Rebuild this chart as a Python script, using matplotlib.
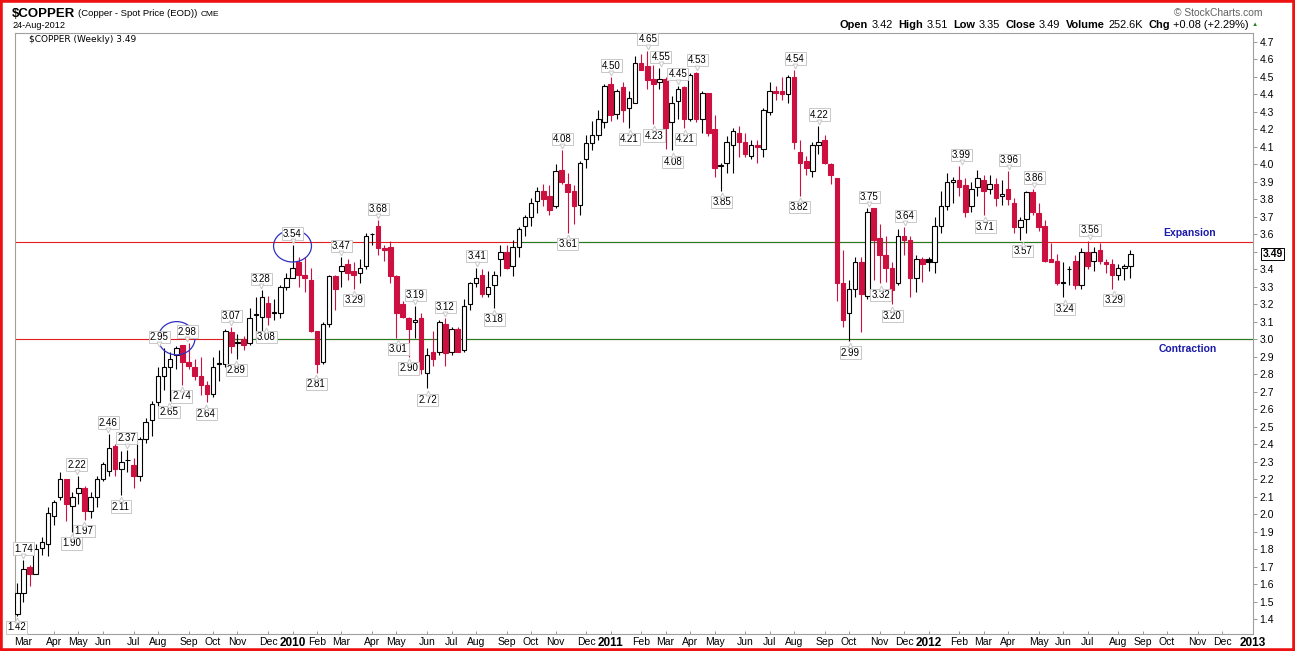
import numpy as np
import pandas as pd
import matplotlib
matplotlib.use('Agg')
import matplotlib.pyplot as plt
from matplotlib.patches import Ellipse, Rectangle
from matplotlib.transforms import offset_copy

plt.rcParams['font.family'] = ['Liberation Sans', 'DejaVu Sans']

# weekly bars, first week ends Fri 27-Feb-2009, last 24-Aug-2012
first_friday = '2009-02-27'

opens = [1.43, 1.55, 1.70, 1.66, 1.81, 1.83, 1.99, 2.10, 2.20, 2.05,
         2.12, 2.15, 2.02, 2.10, 2.20, 2.25, 2.39, 2.26, 2.31, 2.28,
         2.22, 2.43, 2.54, 2.64, 2.79, 2.84, 2.91, 2.97, 2.87, 2.84,
         2.79, 2.74, 2.69, 2.86, 2.86, 3.04, 2.98, 3.00, 2.98, 3.14,
         3.13, 3.21, 3.15, 3.15, 3.30, 3.35, 3.44, 3.37, 3.34, 3.05,
         2.87, 3.09, 3.36, 3.39, 3.43, 3.39, 3.38, 3.42, 3.60, 3.65,
         3.52, 3.53, 3.36, 3.20, 3.12, 3.10, 3.12, 2.81, 2.93, 2.93,
         3.09, 2.93, 3.06, 2.94, 3.20, 3.32, 3.37, 3.26, 3.31, 3.46,
         3.50, 3.42, 3.53, 3.65, 3.70, 3.79, 3.85, 3.82, 3.76, 3.97,
         3.89, 3.85, 3.77, 4.03, 4.12, 4.17, 4.24, 4.46, 4.29, 4.44,
         4.32, 4.35, 4.58, 4.56, 4.49, 4.47, 4.49, 4.24, 4.36, 4.44,
         4.26, 4.52, 4.26, 4.41, 4.20, 3.99, 4.01, 4.11, 4.18, 4.13,
         4.05, 4.11, 4.09, 4.30, 4.42, 4.42, 4.40, 4.50, 4.07, 4.02,
         3.96, 4.11, 4.14, 4.00, 3.92, 3.32, 3.15, 3.29, 3.44, 3.25,
         3.75, 3.58, 3.48, 3.41, 3.32, 3.59, 3.57, 3.35, 3.46, 3.46,
         3.44, 3.65, 3.76, 3.90, 3.91, 3.88, 3.76, 3.87, 3.91, 3.86,
         3.89, 3.82, 3.86, 3.78, 3.64, 3.69, 3.84, 3.72, 3.65, 3.46,
         3.45, 3.33, 3.40, 3.45, 3.31, 3.50, 3.45, 3.51, 3.44, 3.43,
         3.37, 3.41, 3.42]

highs = [1.61, 1.74, 1.71, 1.83, 1.87, 2.04, 2.08, 2.24, 2.20, 2.13,
         2.22, 2.16, 2.13, 2.22, 2.30, 2.46, 2.40, 2.36, 2.37, 2.32,
         2.44, 2.55, 2.65, 2.84, 2.95, 2.93, 2.96, 2.97, 2.98, 2.89,
         2.90, 2.76, 2.90, 2.94, 3.06, 3.07, 3.03, 3.02, 3.18, 3.24,
         3.28, 3.25, 3.23, 3.31, 3.38, 3.54, 3.47, 3.47, 3.41, 3.05,
         3.10, 3.37, 3.37, 3.47, 3.46, 3.44, 3.46, 3.61, 3.61, 3.68,
         3.54, 3.56, 3.37, 3.22, 3.13, 3.19, 3.15, 2.95, 3.05, 3.11,
         3.12, 3.07, 3.07, 3.23, 3.33, 3.41, 3.40, 3.39, 3.39, 3.54,
         3.54, 3.57, 3.64, 3.71, 3.81, 3.87, 3.89, 3.88, 4.00, 4.08,
         3.95, 3.88, 4.02, 4.17, 4.25, 4.31, 4.46, 4.50, 4.43, 4.47,
         4.42, 4.62, 4.63, 4.65, 4.57, 4.55, 4.50, 4.39, 4.45, 4.45,
         4.52, 4.53, 4.42, 4.41, 4.28, 4.01, 4.16, 4.21, 4.22, 4.18,
         4.14, 4.14, 4.32, 4.47, 4.45, 4.50, 4.51, 4.54, 4.14, 4.05,
         4.13, 4.22, 4.17, 4.01, 3.92, 3.51, 3.34, 3.47, 3.47, 3.75,
         3.75, 3.66, 3.59, 3.44, 3.63, 3.64, 3.59, 3.48, 3.47, 3.47,
         3.70, 3.85, 3.95, 3.93, 3.99, 3.92, 3.90, 3.97, 3.94, 3.94,
         3.92, 3.91, 3.96, 3.81, 3.70, 3.85, 3.86, 3.78, 3.68, 3.55,
         3.49, 3.44, 3.42, 3.48, 3.52, 3.56, 3.53, 3.55, 3.46, 3.46,
         3.43, 3.43, 3.51]

lows = [1.42, 1.50, 1.59, 1.66, 1.77, 1.76, 1.94, 2.08, 1.96, 1.90,
        2.06, 1.97, 1.98, 2.04, 2.19, 2.22, 2.22, 2.11, 2.24, 2.15,
        2.19, 2.41, 2.45, 2.62, 2.71, 2.65, 2.83, 2.74, 2.83, 2.77,
        2.68, 2.64, 2.67, 2.76, 2.84, 2.92, 2.89, 2.94, 2.97, 3.00,
        3.02, 3.08, 3.11, 3.12, 3.28, 3.35, 3.30, 3.27, 3.04, 2.81,
        2.86, 3.07, 3.17, 3.30, 3.34, 3.29, 3.32, 3.40, 3.54, 3.48,
        3.45, 3.32, 3.01, 3.12, 2.90, 3.01, 2.80, 2.72, 2.85, 2.91,
        2.85, 2.91, 2.93, 2.93, 3.17, 3.30, 3.24, 3.24, 3.18, 3.36,
        3.40, 3.36, 3.47, 3.59, 3.65, 3.72, 3.76, 3.71, 3.75, 3.89,
        3.61, 3.66, 3.71, 3.98, 4.08, 4.14, 4.21, 4.25, 4.26, 4.24,
        4.21, 4.35, 4.54, 4.43, 4.23, 4.43, 4.09, 4.08, 4.26, 4.21,
        4.25, 4.24, 4.18, 4.16, 3.93, 3.85, 3.95, 3.95, 4.04, 4.04,
        4.03, 4.01, 4.04, 4.28, 4.37, 4.37, 4.35, 4.09, 3.82, 3.94,
        3.93, 4.06, 4.00, 3.89, 3.22, 3.07, 2.99, 3.24, 3.04, 3.23,
        3.34, 3.32, 3.33, 3.20, 3.31, 3.48, 3.24, 3.27, 3.33, 3.39,
        3.38, 3.61, 3.74, 3.78, 3.82, 3.70, 3.73, 3.82, 3.71, 3.83,
        3.76, 3.77, 3.77, 3.61, 3.57, 3.61, 3.71, 3.62, 3.44, 3.44,
        3.31, 3.24, 3.31, 3.29, 3.29, 3.40, 3.39, 3.43, 3.38, 3.29,
        3.34, 3.34, 3.35]

closes = [1.55, 1.69, 1.66, 1.80, 1.84, 2.01, 2.07, 2.20, 2.06, 2.10,
          2.15, 2.02, 2.10, 2.20, 2.29, 2.38, 2.26, 2.30, 2.31, 2.22,
          2.43, 2.53, 2.63, 2.79, 2.84, 2.89, 2.95, 2.87, 2.85, 2.79,
          2.74, 2.69, 2.84, 2.86, 3.05, 2.96, 2.98, 2.97, 3.12, 3.14,
          3.24, 3.13, 3.15, 3.30, 3.35, 3.41, 3.37, 3.35, 3.05, 2.86,
          3.09, 3.36, 3.29, 3.42, 3.38, 3.37, 3.41, 3.59, 3.60, 3.52,
          3.51, 3.36, 3.15, 3.13, 3.06, 3.11, 2.83, 2.91, 2.89, 3.10,
          2.92, 3.06, 2.93, 3.19, 3.32, 3.35, 3.26, 3.30, 3.37, 3.50,
          3.41, 3.53, 3.63, 3.70, 3.78, 3.85, 3.80, 3.74, 3.96, 3.90,
          3.84, 3.76, 4.01, 4.12, 4.17, 4.26, 4.45, 4.28, 4.42, 4.31,
          4.38, 4.58, 4.54, 4.48, 4.46, 4.49, 4.21, 4.35, 4.43, 4.26,
          4.51, 4.26, 4.41, 4.18, 3.98, 3.99, 4.13, 4.19, 4.13, 4.06,
          4.11, 4.10, 4.31, 4.42, 4.41, 4.40, 4.50, 4.13, 4.01, 3.98,
          4.11, 4.13, 4.01, 3.94, 3.32, 3.11, 3.29, 3.44, 3.26, 3.73,
          3.57, 3.48, 3.41, 3.28, 3.59, 3.57, 3.35, 3.46, 3.43, 3.44,
          3.65, 3.76, 3.90, 3.91, 3.87, 3.73, 3.86, 3.92, 3.85, 3.89,
          3.81, 3.83, 3.80, 3.64, 3.68, 3.84, 3.73, 3.64, 3.45, 3.44,
          3.32, 3.325, 3.40, 3.31, 3.50, 3.42, 3.50, 3.45, 3.43, 3.37,
          3.41, 3.42, 3.49]

# hand drawn annotations: (week position, price, 'h' above high / 'l' below low)
marks = [(0.9, 1.42, 'l'), (2.0, 1.74, 'h'), (10.7, 2.22, 'h'), (9.9, 1.90, 'l'),
         (11.9, 1.97, 'l'), (15.9, 2.46, 'h'), (18.9, 2.37, 'h'), (17.9, 2.11, 'l'),
         (24.2, 2.95, 'h'), (28.8, 2.98, 'h'), (25.8, 2.65, 'l'), (27.9, 2.74, 'l'),
         (31.9, 2.64, 'l'), (36.0, 3.07, 'h'), (36.8, 2.89, 'l'), (40.9, 3.28, 'h'),
         (41.7, 3.08, 'l'), (46.0, 3.54, 'h'), (49.9, 2.81, 'l'), (54.0, 3.47, 'h'),
         (56.0, 3.29, 'l'), (60.0, 3.68, 'h'), (63.3, 3.01, 'l'), (66.1, 3.19, 'h'),
         (65.0, 2.90, 'l'), (68.1, 2.72, 'l'), (71.0, 3.12, 'h'), (76.1, 3.41, 'h'),
         (79.0, 3.18, 'l'), (90.1, 4.08, 'h'), (91.0, 3.61, 'l'), (98.1, 4.50, 'h'),
         (101.1, 4.21, 'l'), (104.1, 4.65, 'h'), (106.2, 4.55, 'h'), (105.1, 4.23, 'l'),
         (109.0, 4.45, 'h'), (108.2, 4.08, 'l'), (110.2, 4.21, 'l'), (112.2, 4.53, 'h'),
         (116.2, 3.85, 'l'), (128.2, 4.54, 'h'), (128.9, 3.82, 'l'), (132.1, 4.22, 'h'),
         (137.2, 2.99, 'l'), (140.3, 3.75, 'h'), (142.2, 3.32, 'l'), (144.1, 3.20, 'l'),
         (146.2, 3.64, 'h'), (155.4, 3.99, 'h'), (159.3, 3.71, 'l'), (163.2, 3.96, 'h'),
         (165.4, 3.57, 'l'), (167.3, 3.86, 'h'), (172.3, 3.24, 'l'), (176.4, 3.56, 'h'),
         (180.3, 3.29, 'l')]

W, H = 1295, 651
RED = '#cc1040'

fig = plt.figure(figsize=(W / 100, H / 100), dpi=100)
ax = fig.add_axes([15 / W, 1 - 634 / H, (1253 - 15) / W, (634 - 33) / H])

o = np.array(opens)
h = np.array(highs)
l = np.array(lows)
c = np.array(closes)
n = len(c)
x = np.arange(1, n + 1)
prev = np.r_[c[0], c[:-1]]
edge = np.where(c < prev, RED, 'black')
face = np.where(c >= o, 'white', edge)

ax.vlines(x, l, h, colors=edge, lw=0.8, zorder=2)
body = np.maximum(np.abs(c - o), 0.004)
ax.bar(x, body, bottom=np.minimum(o, c), width=0.74, color=face,
       edgecolor=edge, linewidth=0.8, zorder=3)

# support / resistance lines
ax.axhline(3.557, color='#e02020', lw=0.8, zorder=1)
ax.axhline(3.0, color='#e02020', lw=0.8, zorder=1)
ax.hlines(3.555, 82.8, 169.2, color='#208020', lw=0.8, zorder=1.5)
ax.hlines(3.0, 35.3, 204, color='#208020', lw=0.8, zorder=1.5)

ax.add_patch(Ellipse((27.05, 3.007), 6.0, 0.19, fill=False, ec='#3030c0', lw=0.9, zorder=5))
ax.add_patch(Ellipse((46.0, 3.534), 6.2, 0.183, fill=False, ec='#3030c0', lw=0.9, zorder=5))

ax.text(192.6, 3.61, 'Expansion', color='#1a1aa8', fontsize=7.5, fontweight='bold',
        ha='center', va='center')
ax.text(192.4, 2.945, 'Contraction', color='#1a1aa8', fontsize=7.5, fontweight='bold',
        ha='center', va='center')

for wk, val, side in marks:
    sgn = 1 if side == 'h' else -1
    ax.annotate(f'{val:.2f}', xy=(wk, val), xytext=(0, 8.2 * sgn), textcoords='offset points',
                ha='center', va='center', fontsize=7,
                bbox=dict(boxstyle='square,pad=0.12', fc='white', ec='#c8c8c8', lw=0.7),
                zorder=6)
    tr = offset_copy(ax.transData, fig=fig, x=0, y=3.0 * sgn, units='points')
    ax.plot(wk, val, marker='v' if sgn > 0 else '^', ms=3.5, mfc='white',
            mec='#c8c8c8', mew=0.7, transform=tr, zorder=6, clip_on=False)

ax.set_xlim(0.62, 203.05)
ax.set_ylim(1.317, 4.751)

# y axis on the right, 3.5 left out where the price tag sits
yt = np.round(np.arange(1.4, 4.71, 0.1), 1)
ax.yaxis.tick_right()
ax.set_yticks(yt)
ax.set_yticklabels(['' if v == 3.5 else f'{v:.1f}' for v in yt])
ax.tick_params(axis='y', length=3, width=0.6, color='#888888', labelsize=7.5, pad=1.5)

# month labels at the first week whose Monday is in the month
fridays = pd.date_range(first_friday, periods=210, freq='W-FRI')
mondays = fridays - pd.Timedelta(days=4)
pos, labs = [], []
for i in range(1, len(fridays)):
    if mondays[i].month != mondays[i - 1].month and i + 1 <= 203.05:
        pos.append(i + 1)
        labs.append(str(mondays[i].year) if mondays[i].month == 1 else mondays[i].strftime('%b'))
ax.set_xticks(pos)
ax.set_xticklabels(labs)
ax.tick_params(axis='x', length=2.5, width=0.6, color='#888888', direction='in',
               labelsize=7.5, pad=2)
for t in ax.get_xticklabels():
    if t.get_text().isdigit():
        t.set_fontweight('bold')
        t.set_fontsize(8.5)

for s in ax.spines.values():
    s.set_color('#a0a0a0')
    s.set_linewidth(0.8)

# current price tag on the axis
ax.annotate('3.49', xy=(1.0, 3.49), xycoords=ax.get_yaxis_transform(),
            xytext=(14, 0), textcoords='offset points', ha='center', va='center',
            fontsize=7.5, fontweight='bold',
            bbox=dict(boxstyle='square,pad=0.1', fc='white', ec='black', lw=0.7), zorder=7,
            annotation_clip=False)


def fx(px):
    return px / W


def fy(py):
    return 1 - py / H


r = fig.canvas.get_renderer()


def run(pieces, x0, y, right=False):
    # pieces: (text, size, bold, colour, gap after)
    arts = [fig.text(0, fy(y), t, fontsize=s, va='center', color=col,
                     fontweight='bold' if b else 'normal') for t, s, b, col, g in pieces]
    widths = [a.get_window_extent(r).width for a in arts]
    total = sum(widths) + sum(p[4] for p in pieces[:-1])
    xp = x0 - total if right else x0
    for a, w, p in zip(arts, widths, pieces):
        a.set_x(fx(xp))
        xp += w + p[4]


run([('$COPPER', 9.5, True, 'black', 3),
     ('(Copper - Spot Price (EOD))', 6.8, False, 'black', 3),
     ('CME', 6, False, 'black', 0)], 12, 14)
fig.text(fx(12), fy(26), '24-Aug-2012', fontsize=6.6, va='center')
fig.text(fx(29), fy(39), '$COPPER (Weekly) 3.49', fontsize=6.5, va='center',
         family=['DejaVu Sans'])
fig.text(fx(1263), fy(13), '\u00a9 StockCharts.com', fontsize=7.4, va='center', ha='right',
         color='#606060')

hdr = [('Open', True), ('3.42', False), ('High', True), ('3.51', False),
       ('Low', True), ('3.35', False), ('Close', True), ('3.49', False),
       ('Volume', True), ('252.6K', False), ('Chg', True), ('+0.08 (+2.29%)', False)]
pieces = [(t, 7.9, b, 'black', 3 if b else 6) for t, b in hdr]
pieces[-1] = ('+0.08 (+2.29%)', 7.9, False, 'black', 3)
pieces.append(('\u25b2', 4.5, False, '#208020', 0))
run(pieces, 1258, 25, right=True)

# red frame round the picture
fig.patches.append(Rectangle((0, 0), 1, 1, transform=fig.transFigure, fill=False,
                             ec='#ee1111', lw=4, zorder=10))

fig.savefig('out.png', dpi=100)
